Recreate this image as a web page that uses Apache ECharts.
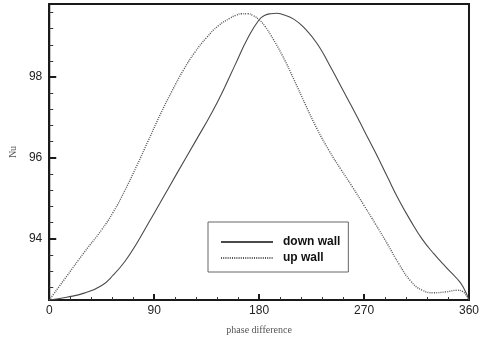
<!DOCTYPE html>
<html>
<head>
<meta charset="utf-8">
<script src="https://cdn.jsdelivr.net/npm/echarts@6/dist/echarts.min.js"></script>
<style>
  html, body { margin: 0; padding: 0; background: #fff; }
  #chart { width: 482px; height: 340px; }
</style>
</head>
<body>
<div id="chart"></div>
<script>
// Nusselt number vs. phase difference for the two channel walls
const downPhase = [0, 15, 30, 45, 55, 65, 75, 85, 95, 110, 125, 140, 150, 160, 170, 180, 185, 190, 195, 200, 210, 220, 230, 240, 250, 260, 270, 280, 290, 300, 310, 320, 330, 340, 350, 355, 360];
const downNu    = [92.48, 92.55, 92.65, 92.84, 93.10, 93.44, 93.88, 94.38, 94.88, 95.64, 96.39, 97.15, 97.72, 98.34, 98.95, 99.42, 99.53, 99.57, 99.58, 99.55, 99.43, 99.18, 98.82, 98.32, 97.78, 97.24, 96.68, 96.12, 95.53, 94.95, 94.44, 93.98, 93.62, 93.30, 93.00, 92.80, 92.48];

const upPhase = [0, 15, 30, 45, 55, 65, 75, 85, 95, 105, 115, 125, 135, 145, 155, 160, 165, 170, 175, 180, 185, 190, 200, 210, 220, 230, 240, 250, 260, 270, 280, 290, 300, 310, 320, 330, 340, 350, 355, 360];
const upNu    = [92.48, 93.07, 93.66, 94.22, 94.66, 95.20, 95.80, 96.43, 97.06, 97.64, 98.17, 98.62, 98.98, 99.27, 99.46, 99.53, 99.57, 99.57, 99.52, 99.42, 99.26, 99.04, 98.53, 97.93, 97.30, 96.70, 96.18, 95.72, 95.28, 94.82, 94.35, 93.87, 93.37, 92.95, 92.72, 92.66, 92.68, 92.72, 92.68, 92.48];

const xTicks = [0, 90, 180, 270, 360];
const yTicks = [94, 96, 98];
const yMinorTicks = [92.8, 93.2, 93.6, 94.4, 94.8, 95.2, 95.6, 96.4, 96.8, 97.2, 97.6, 98.4, 98.8, 99.2, 99.6];

const seriesNames = ['down wall', 'up wall'];
const xName = 'phase difference';
const yName = 'Nu';

const Y_MIN = 92.48, Y_MAX = 99.81;

const pair = (xs, ys) => xs.map((x, i) => [x, ys[i]]);

const axisColor = '#1a1a1a';
const labelFont = { fontFamily: 'Liberation Sans', fontSize: 12, color: '#222' };
const nameFont = { fontFamily: 'Liberation Serif', fontSize: 10, color: '#555' };

const chart = echarts.init(document.getElementById('chart'), null, { renderer: 'canvas' });
chart.setOption({
  animation: false,
  backgroundColor: '#fff',
  grid: {
    left: 48, right: 8, top: 4, bottom: 40,
    show: true, borderColor: axisColor, borderWidth: 2, backgroundColor: 'transparent'
  },
  legend: {
    data: seriesNames,
    orient: 'vertical',
    left: 208, top: 222,
    padding: [14, 8, 8, 12],
    itemWidth: 52, itemHeight: 12, itemGap: 4,
    itemStyle: { opacity: 0 },
    borderColor: '#666', borderWidth: 1, backgroundColor: '#fff',
    textStyle: { fontFamily: 'Liberation Sans', fontSize: 12, fontWeight: 'bold', color: '#111', padding: [0, 0, 0, 5] }
  },
  xAxis: {
    type: 'value', min: 0, max: 360, interval: 90,
    name: xName, nameLocation: 'middle', nameGap: 25, nameTextStyle: nameFont,
    axisLine: { show: true, onZero: false, lineStyle: { color: axisColor, width: 2 } },
    axisTick: { show: true, inside: true, length: 6, lineStyle: { color: axisColor, width: 2 }, customValues: xTicks },
    minorTick: { show: true, splitNumber: 5, length: 3, lineStyle: { color: '#333', width: 1 } },
    axisLabel: { ...labelFont, margin: 5, customValues: xTicks },
    splitLine: { show: false }
  },
  yAxis: [
    {
      type: 'value', min: Y_MIN, max: Y_MAX,
      name: yName, nameLocation: 'middle', nameGap: 31, nameRotate: 90, nameTextStyle: nameFont,
      axisLine: { show: true, onZero: false, lineStyle: { color: axisColor, width: 2 } },
      axisTick: { show: true, inside: true, length: 7, lineStyle: { color: axisColor, width: 2 }, customValues: yTicks },
      axisLabel: { ...labelFont, margin: 7, customValues: yTicks },
      splitLine: { show: false }
    },
    {
      type: 'value', min: Y_MIN, max: Y_MAX, position: 'left',
      axisLine: { show: false },
      axisTick: { show: true, inside: true, length: 4, lineStyle: { color: '#333', width: 1 }, customValues: yMinorTicks },
      axisLabel: { show: false },
      splitLine: { show: false }
    }
  ],
  series: [
    {
      name: seriesNames[0], type: 'line', yAxisIndex: 0,
      data: pair(downPhase, downNu),
      smooth: 0.5, showSymbol: false, symbol: 'none',
      lineStyle: { color: '#4a4a4a', width: 1.1, type: 'solid' },
      itemStyle: { color: '#4a4a4a' }
    },
    {
      name: seriesNames[1], type: 'line', yAxisIndex: 0,
      data: pair(upPhase, upNu),
      smooth: 0.5, showSymbol: false, symbol: 'none',
      lineStyle: { color: '#555', width: 1.4, type: [1, 1.2] },
      itemStyle: { color: '#555' }
    }
  ]
});
</script>
</body>
</html>
